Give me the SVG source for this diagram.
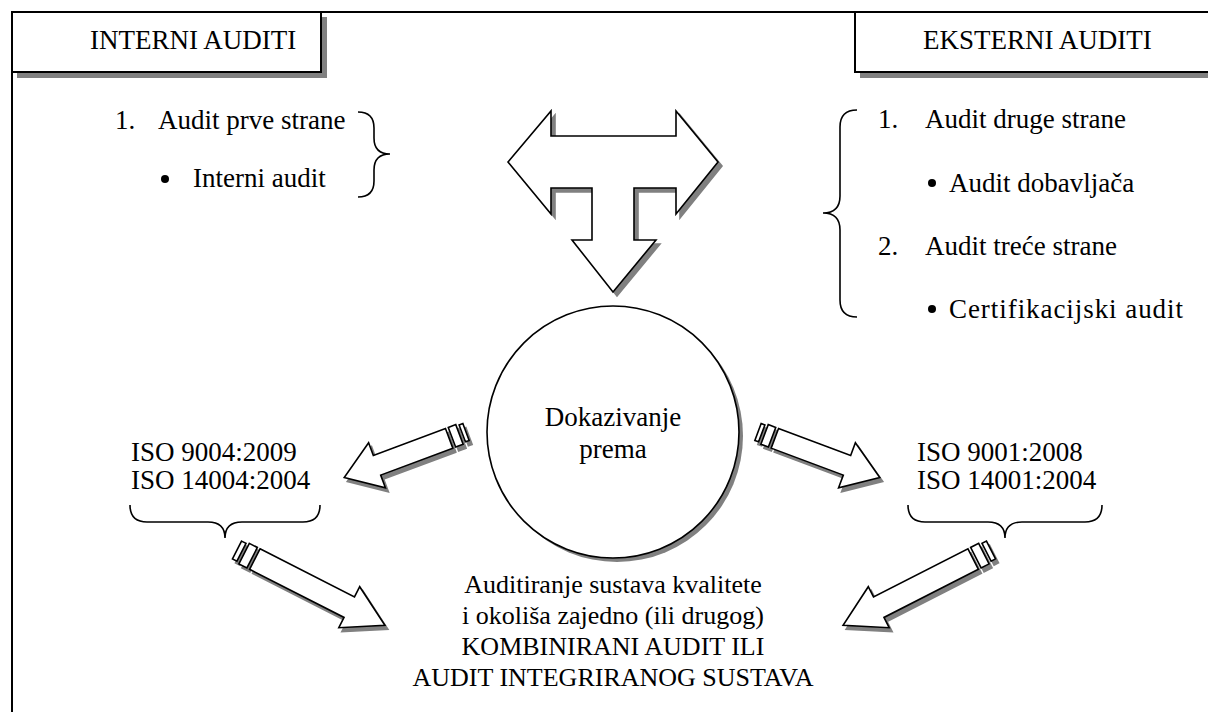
<svg xmlns="http://www.w3.org/2000/svg" xmlns:xlink="http://www.w3.org/1999/xlink" width="1208" height="712" viewBox="0 0 1208 712">
<style>
.t{font-family:"Liberation Serif","Times New Roman",serif;font-size:27px;fill:#000}
.tb{font-family:"Liberation Serif","Times New Roman",serif;font-size:26px;fill:#000}
.ln{fill:none;stroke:#000;stroke-width:2}
.br{fill:none;stroke:#000;stroke-width:1.6}
.arr{fill:#fff;stroke:#000;stroke-width:1.6;stroke-linejoin:miter}
.sh{fill:#808080;stroke:#808080;stroke-width:1.6}
</style>
<defs>
<path id="arrUp" d="M0,-9 h4 v18 h-4 Z M7,-10.5 h8 v21 h-8 Z M18,-10.5 H95 V-24 L130,0 L95,24 V10.5 H18 Z"/>
<path id="arrLo" d="M0,-10 h5 v20 h-5 Z M8,-11.5 h9 v23 h-9 Z M20,-11.5 H126 V-23 L166,0 L126,23 V11.5 H20 Z"/>
<polygon id="tarr" points="508,162 551,111 551,136 676,136 676,111 718,162 676,214 676,188 634,188 634,240 656,240 613,292 572,240 592,240 592,188 551,188 551,214"/>
</defs>
<rect width="1208" height="712" fill="#fff"/>
<g id="frame">
<path class="ln" d="M12,712 V12 H1208"/>
</g>
<g id="box-interni">
<rect x="17" y="73" width="310" height="5" fill="#808080"/>
<rect x="322" y="17" width="5" height="61" fill="#808080"/>
<path class="ln" d="M12,72 H321 V12"/>
<text class="t" x="90" y="49">INTERNI AUDITI</text>
</g>
<g id="box-eksterni">
<rect x="860" y="73" width="348" height="5" fill="#808080"/>
<path class="ln" d="M1208,72 H855 V12"/>
<text class="t" x="923" y="49">EKSTERNI AUDITI</text>
</g>
<g id="interni-list">
<text class="t" x="115" y="129">1.</text>
<text class="t" x="158" y="129">Audit prve strane</text>
<circle cx="165" cy="179" r="4"/>
<text class="t" x="193" y="187">Interni audit</text>
<path class="br" d="M358,112 Q374,112 374,128 V138 Q374,154 390,154 Q374,154 374,170 V181 Q374,197 358,197"/>
</g>
<g id="eksterni-list">
<path class="br" d="M857,110 Q840,110 840,127 V196 Q840,213 823,213 Q840,213 840,230 V300 Q840,317 857,317"/>
<text class="t" x="878" y="128">1.</text>
<text class="t" x="925" y="128">Audit druge strane</text>
<circle cx="932" cy="183" r="4"/>
<text class="t" x="949" y="192">Audit dobavljača</text>
<text class="t" x="878" y="255">2.</text>
<text class="t" x="925" y="255">Audit treće strane</text>
<circle cx="932" cy="309" r="4"/>
<text class="t" x="949" y="318" textLength="234">Certifikacijski audit</text>
</g>
<g id="t-arrow">
<use xlink:href="#tarr" class="sh" transform="translate(4,4)"/>
<use xlink:href="#tarr" class="arr"/>
</g>
<g id="circle-dokazivanje">
<circle cx="617" cy="436" r="126" fill="#808080"/>
<circle cx="613" cy="432" r="126" fill="#fff" stroke="#000" stroke-width="1.6"/>
<text class="t" x="613" y="426" text-anchor="middle">Dokazivanje</text>
<text class="t" x="613" y="458" text-anchor="middle">prema</text>
</g>
<g id="iso-left">
<text class="t" x="131" y="461">ISO 9004:2009</text>
<text class="t" x="131" y="489">ISO 14004:2004</text>
<path class="br" d="M130,505 Q130,522 147,522 H208 Q225,522 225,538 Q225,522 242,522 H303 Q320,522 320,505"/>
</g>
<g id="iso-right">
<text class="t" x="917" y="461">ISO 9001:2008</text>
<text class="t" x="917" y="489">ISO 14001:2004</text>
<path class="br" d="M908,505 Q908,522 925,522 H988 Q1005,522 1005,538 Q1005,522 1022,522 H1085 Q1102,522 1102,505"/>
</g>
<g id="connectors">
<g transform="translate(3,4)">
<use xlink:href="#arrUp" class="sh" transform="translate(758,432) rotate(20.5)"/>
<use xlink:href="#arrUp" class="sh" transform="translate(466,432) rotate(159.5)"/>
<use xlink:href="#arrLo" class="sh" transform="translate(237,550) rotate(27)"/>
<use xlink:href="#arrLo" class="sh" transform="translate(991,550) rotate(153)"/>
</g>
<use xlink:href="#arrUp" class="arr" transform="translate(758,432) rotate(20.5)"/>
<use xlink:href="#arrUp" class="arr" transform="translate(466,432) rotate(159.5)"/>
<use xlink:href="#arrLo" class="arr" transform="translate(237,550) rotate(27)"/>
<use xlink:href="#arrLo" class="arr" transform="translate(991,550) rotate(153)"/>
</g>
<g id="result">
<text class="tb" x="613" y="593" text-anchor="middle">Auditiranje sustava kvalitete</text>
<text class="tb" x="613" y="624" text-anchor="middle">i okoliša zajedno (ili drugog)</text>
<text class="tb" x="613" y="655" text-anchor="middle">KOMBINIRANI AUDIT ILI</text>
<text class="tb" x="613" y="686" text-anchor="middle">AUDIT INTEGRIRANOG SUSTAVA</text>
</g>
</svg>
